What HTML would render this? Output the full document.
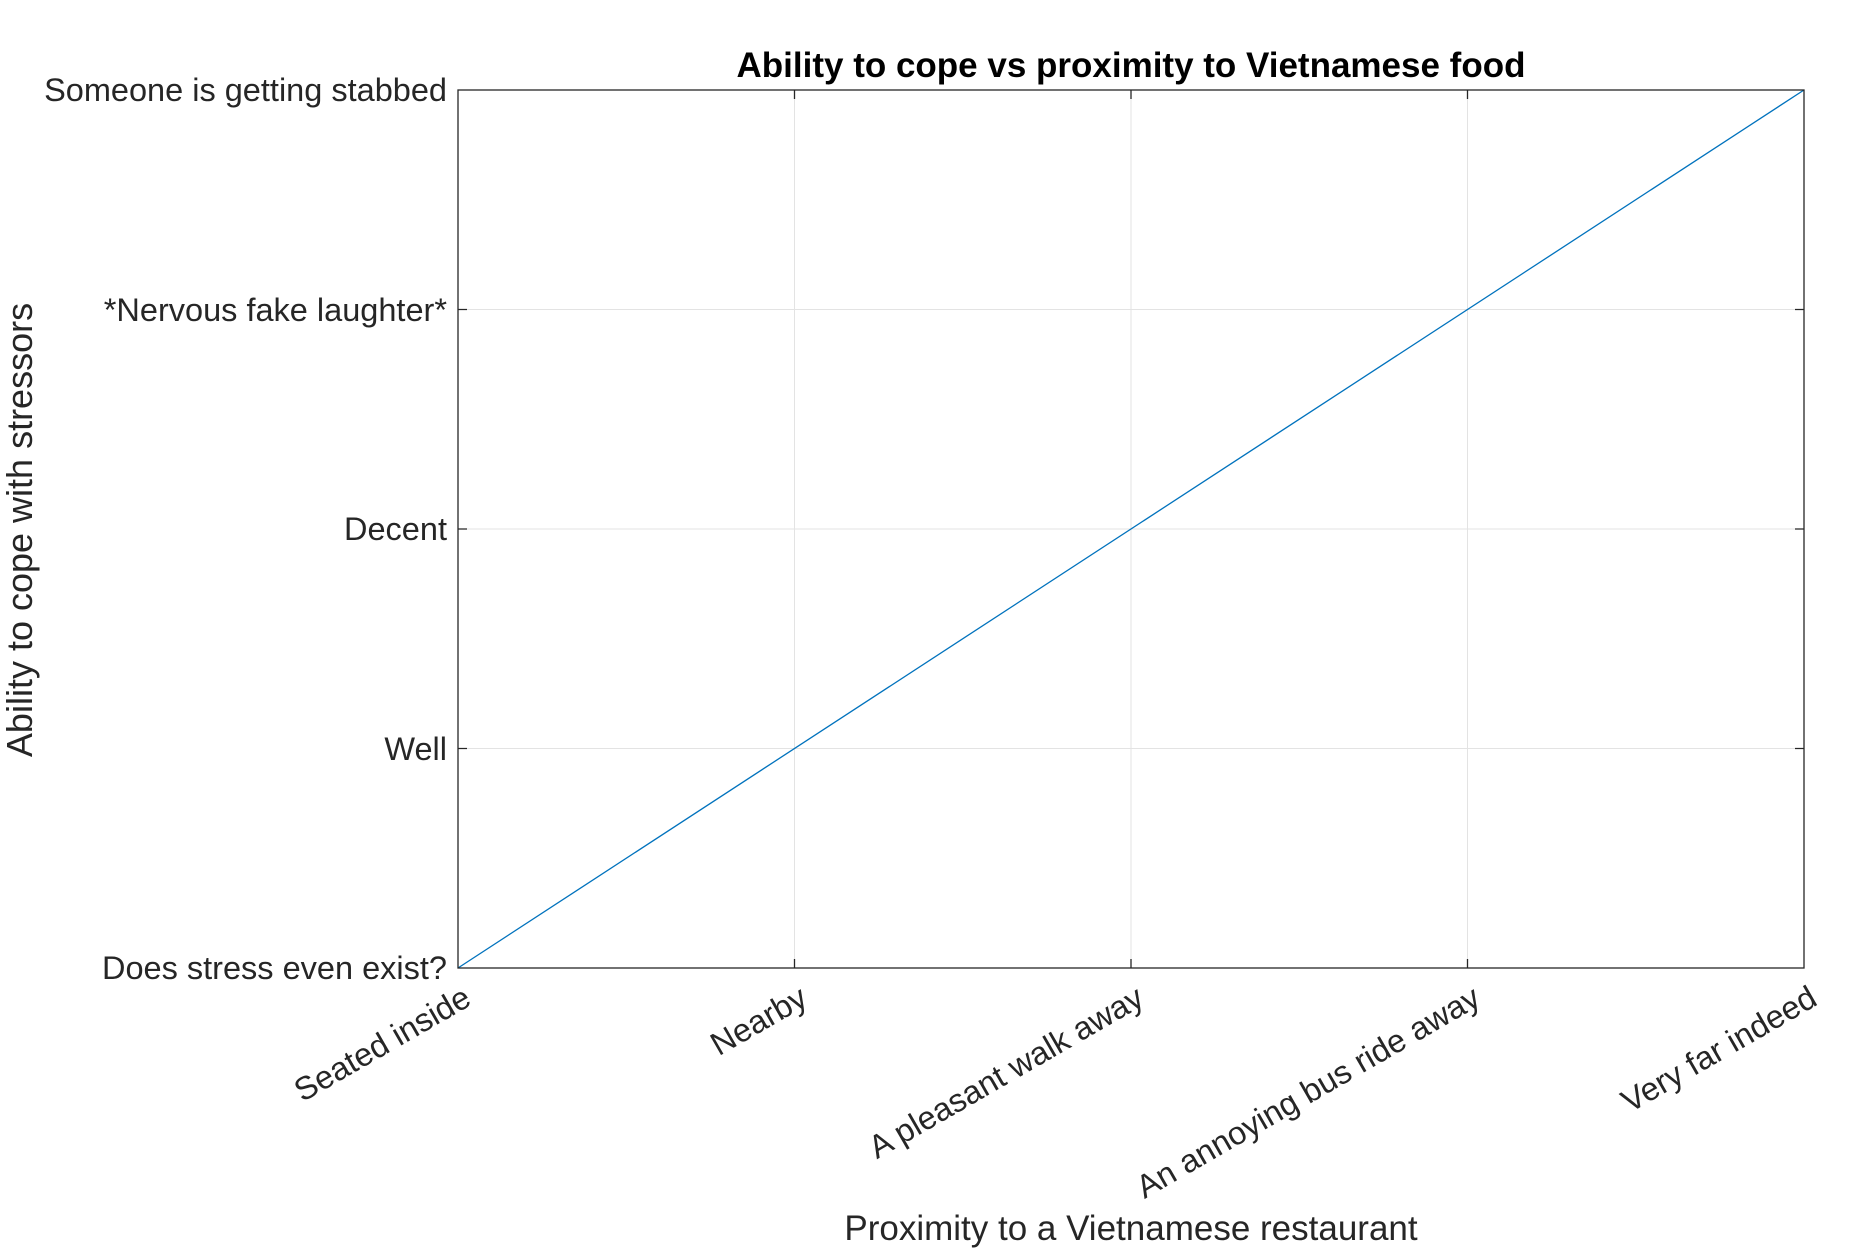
<!DOCTYPE html>
<html><head><style>html,body{margin:0;padding:0;background:#fff}</style></head><body>
<svg width="1876" height="1248" xmlns="http://www.w3.org/2000/svg" font-family="Liberation Sans, Arial, sans-serif">
<rect width="1876" height="1248" fill="#fff"/>
<g stroke="#e3e3e3" stroke-width="1">
<line x1="794.5" y1="90" x2="794.5" y2="968"/><line x1="1131" y1="90" x2="1131" y2="968"/><line x1="1467.5" y1="90" x2="1467.5" y2="968"/>
<line x1="458" y1="309.5" x2="1804" y2="309.5"/><line x1="458" y1="529" x2="1804" y2="529"/><line x1="458" y1="748.5" x2="1804" y2="748.5"/>
</g>
<line x1="458" y1="968" x2="1804" y2="90" stroke="#0072BD" stroke-width="1.3"/>
<g stroke="#262626" stroke-width="1.3" fill="none">
<rect x="458" y="90" width="1346" height="878"/>
<path d="M794.5 968v-9M1131 968v-9M1467.5 968v-9M794.5 90v9M1131 90v9M1467.5 90v9M458 309.5h9M458 529h9M458 748.5h9M1804 309.5h-9M1804 529h-9M1804 748.5h-9"/>
</g>
<text x="1131" y="77" text-anchor="middle" font-size="35" font-weight="bold" fill="#000">Ability to cope vs proximity to Vietnamese food</text>
<g font-size="32.5" fill="#262626" text-anchor="end">
<text x="447" y="101">Someone is getting stabbed</text>
<text x="447" y="321">*Nervous fake laughter*</text>
<text x="447" y="540">Decent</text>
<text x="447" y="760">Well</text>
<text x="447" y="979">Does stress even exist?</text>
<text transform="translate(473,1004) rotate(-30)">Seated inside</text>
<text transform="translate(809.5,1004) rotate(-30)">Nearby</text>
<text transform="translate(1146,1004) rotate(-30)">A pleasant walk away</text>
<text transform="translate(1482.5,1004) rotate(-30)">An annoying bus ride away</text>
<text transform="translate(1819,1004) rotate(-30)">Very far indeed</text>
</g>
<text x="1131" y="1240" text-anchor="middle" font-size="35" fill="#262626">Proximity to a Vietnamese restaurant</text>
<text transform="translate(32,530) rotate(-90)" text-anchor="middle" font-size="36" fill="#262626">Ability to cope with stressors</text>
</svg>
</body></html>
